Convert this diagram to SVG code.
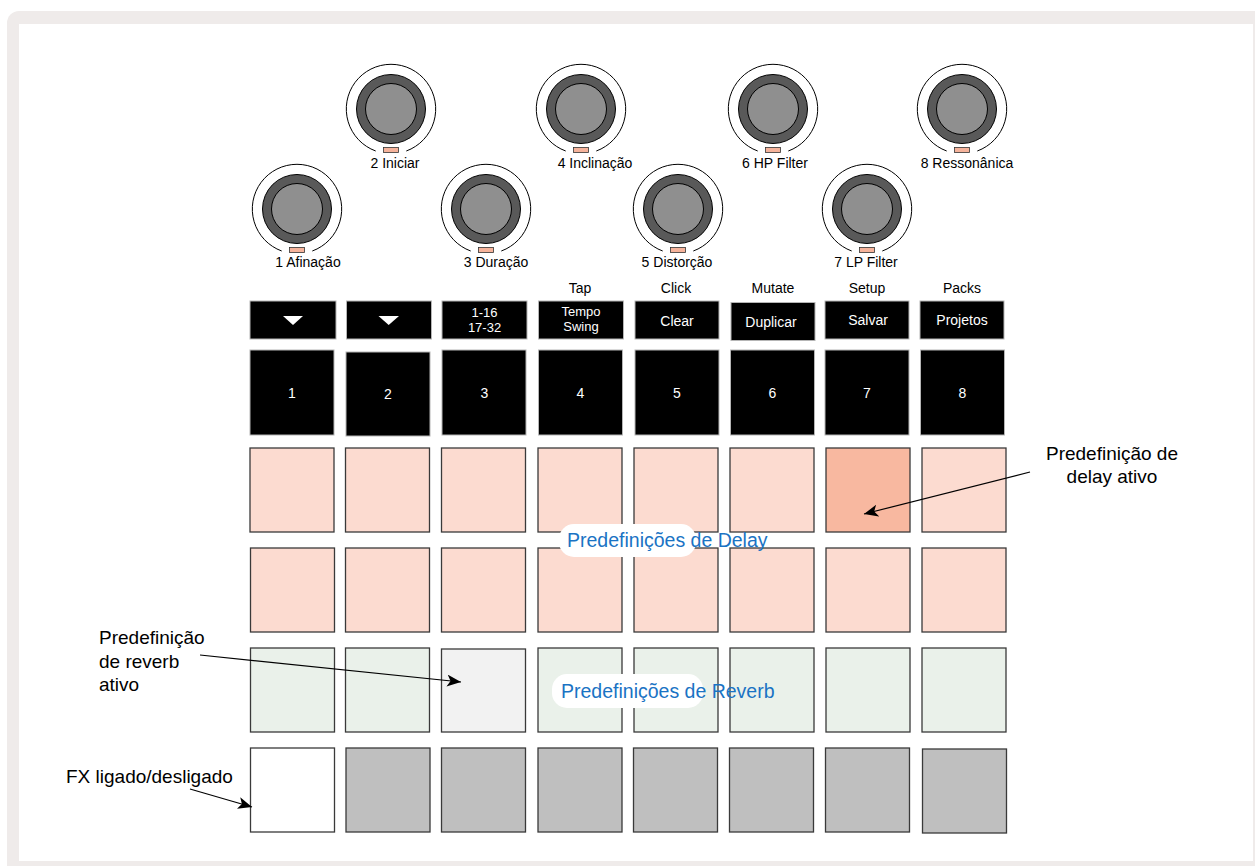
<svg xmlns="http://www.w3.org/2000/svg" width="1255" height="866" viewBox="0 0 1255 866">
<defs>
<style>
text{font-family:"Liberation Sans",Arial,sans-serif;fill:#000}
.kl{font-size:14px;text-anchor:middle}
.bt{font-size:14px;text-anchor:middle;fill:#fff}
.bt2{font-size:13px;text-anchor:middle;fill:#fff}
.big{font-size:19px}
.blue{font-size:19.5px;fill:#1a73c4}
.btn{fill:#000;stroke:#b5b5b5;stroke-width:1}
.pad{stroke:#3a3a3a;stroke-width:1.3}
.pk{fill:#fcdbd0}
.or{fill:#f8b8a0}
.gr{fill:#eaf1ea}
.ac{fill:#f2f2f2}
.gy{fill:#bfbfbf}
.wh{fill:#fff}
.ko{fill:none;stroke:#000;stroke-width:1}
.kr{fill:#595959;stroke:#000;stroke-width:1}
.ki{fill:#8f8f8f;stroke:#000;stroke-width:1}
.led{fill:#f5b39b;stroke:#333;stroke-width:0.8}
.arr{stroke:#000;stroke-width:1.2;fill:none;marker-end:url(#ah)}
</style>
<marker id="ah" markerUnits="userSpaceOnUse" markerWidth="15" markerHeight="13" refX="14" refY="6" orient="auto" viewBox="0 0 15 13">
<path d="M0,0 L14,6 L0,12 L3.5,6 z" fill="#000"/>
</marker>
<g id="knob">
<path class="ko" d="M-15.3,42 A44.7,44.7 0 1 1 15.3,42"/>
<circle class="kr" r="34.5"/>
<circle class="ki" r="25.5"/>
<rect class="led" x="-7.5" y="38.5" width="15" height="5"/>
</g>
</defs>

<rect x="7" y="11" width="1270" height="880" rx="12" fill="#efebea"/>
<rect x="19" y="24" width="1234" height="837" fill="#fff"/>

<g id="knobs">
<g id="knob1"><use href="#knob" x="297" y="209"/><text class="kl" x="308" y="267">1 Afinação</text></g>
<g id="knob2"><use href="#knob" x="391" y="109"/><text class="kl" x="395" y="168">2 Iniciar</text></g>
<g id="knob3"><use href="#knob" x="486" y="209"/><text class="kl" x="496" y="267">3 Duração</text></g>
<g id="knob4"><use href="#knob" x="581" y="109"/><text class="kl" x="595" y="168">4 Inclinação</text></g>
<g id="knob5"><use href="#knob" x="678" y="209"/><text class="kl" x="677" y="267">5 Distorção</text></g>
<g id="knob6"><use href="#knob" x="773" y="109"/><text class="kl" x="775" y="168">6 HP Filter</text></g>
<g id="knob7"><use href="#knob" x="867" y="209"/><text class="kl" x="866" y="267">7 LP Filter</text></g>
<g id="knob8"><use href="#knob" x="962" y="109"/><text class="kl" x="967" y="168">8 Ressonânica</text></g>
</g>

<g id="shift-labels">
<text class="kl" x="580" y="293">Tap</text>
<text class="kl" x="676" y="293">Click</text>
<text class="kl" x="773" y="293">Mutate</text>
<text class="kl" x="867" y="293">Setup</text>
<text class="kl" x="962" y="293">Packs</text>
</g>

<g id="buttons">
<g id="btn1"><rect class="btn" x="250" y="301" width="86" height="38"/><path d="M283,316 L303,316 L293,325 z" fill="#fff"/></g>
<g id="btn2"><rect class="btn" x="346.5" y="301" width="85" height="38"/><path d="M378.5,316 L399,316 L388.7,325 z" fill="#fff"/></g>
<g id="btn3"><rect class="btn" x="442" y="301" width="85" height="38"/><text class="bt2" x="484.5" y="316.5">1-16</text><text class="bt2" x="484.5" y="331.5">17-32</text></g>
<g id="btn4"><rect class="btn" x="538.5" y="301" width="85" height="38"/><text class="bt2" x="581" y="316">Tempo</text><text class="bt2" x="581" y="331">Swing</text></g>
<g id="btn5"><rect class="btn" x="635" y="301" width="84" height="38"/><text class="bt" x="677" y="325.5">Clear</text></g>
<g id="btn6"><rect class="btn" x="731" y="302.5" width="84" height="38"/><text class="bt" x="771" y="327">Duplicar</text></g>
<g id="btn7"><rect class="btn" x="825" y="301" width="84" height="38"/><text class="bt" x="868" y="325">Salvar</text></g>
<g id="btn8"><rect class="btn" x="920" y="301" width="84" height="38"/><text class="bt" x="962" y="325">Projetos</text></g>
</g>

<g id="tracks">
<g id="t1"><rect class="btn" x="250" y="350" width="84" height="85"/><text class="bt" x="292" y="398">1</text></g>
<g id="t2"><rect class="btn" x="346" y="352" width="84" height="84"/><text class="bt" x="388" y="399">2</text></g>
<g id="t3"><rect class="btn" x="442" y="350" width="84" height="85"/><text class="bt" x="484.5" y="398">3</text></g>
<g id="t4"><rect class="btn" x="538.5" y="350" width="84" height="85"/><text class="bt" x="580.5" y="398">4</text></g>
<g id="t5"><rect class="btn" x="635" y="350" width="84" height="85"/><text class="bt" x="677" y="398">5</text></g>
<g id="t6"><rect class="btn" x="730.5" y="350" width="84" height="85"/><text class="bt" x="772.5" y="398">6</text></g>
<g id="t7"><rect class="btn" x="825" y="350" width="84" height="85"/><text class="bt" x="867" y="398">7</text></g>
<g id="t8"><rect class="btn" x="920.5" y="350" width="84" height="85"/><text class="bt" x="962.5" y="398">8</text></g>
</g>

<g id="delay-row1">
<rect class="pad pk" x="250" y="448" width="84" height="84"/>
<rect class="pad pk" x="345.5" y="448" width="84" height="84"/>
<rect class="pad pk" x="441.5" y="448" width="84" height="84"/>
<rect class="pad pk" x="538" y="448" width="84" height="84"/>
<rect class="pad pk" x="634" y="448" width="84" height="84"/>
<rect class="pad pk" x="730" y="448" width="84" height="84"/>
<rect class="pad or" x="826" y="448" width="84" height="84"/>
<rect class="pad pk" x="922" y="448" width="84" height="84"/>
</g>
<g id="delay-row2">
<rect class="pad pk" x="250.5" y="548" width="84" height="84"/>
<rect class="pad pk" x="345.5" y="548" width="84" height="84"/>
<rect class="pad pk" x="441.5" y="548" width="84" height="84"/>
<rect class="pad pk" x="538" y="548" width="84" height="84"/>
<rect class="pad pk" x="634" y="548" width="84" height="84"/>
<rect class="pad pk" x="730" y="548" width="84" height="84"/>
<rect class="pad pk" x="826" y="548" width="84" height="84"/>
<rect class="pad pk" x="922" y="548" width="84" height="84"/>
</g>
<g id="reverb-row">
<rect class="pad gr" x="250.5" y="648" width="84" height="84"/>
<rect class="pad gr" x="345.5" y="648" width="84" height="84"/>
<rect class="pad ac" x="441.5" y="649" width="84" height="83"/>
<rect class="pad gr" x="538" y="648" width="84" height="84"/>
<rect class="pad gr" x="634" y="648" width="84" height="84"/>
<rect class="pad gr" x="730" y="648" width="84" height="84"/>
<rect class="pad gr" x="826" y="648" width="84" height="84"/>
<rect class="pad gr" x="922" y="648" width="84" height="84"/>
</g>
<g id="fx-row">
<rect class="pad wh" x="250.5" y="748" width="84" height="84"/>
<rect class="pad gy" x="346" y="748" width="84" height="84"/>
<rect class="pad gy" x="441.5" y="748" width="84" height="84"/>
<rect class="pad gy" x="538" y="748" width="84" height="84"/>
<rect class="pad gy" x="633.5" y="748" width="84" height="84"/>
<rect class="pad gy" x="729.5" y="748" width="84" height="84"/>
<rect class="pad gy" x="825.5" y="748" width="84" height="84"/>
<rect class="pad gy" x="922.5" y="749" width="84" height="84"/>
</g>

<g id="delay-label">
<rect x="559" y="524" width="137" height="33" rx="15" fill="#fff"/>
<text class="blue" x="567" y="547">Predefinições de Delay</text>
</g>
<g id="reverb-label">
<rect x="552" y="674" width="151" height="34" rx="15" fill="#fff"/>
<text class="blue" x="561" y="698">Predefinições de Reverb</text>
</g>

<g id="connectors">
<line class="arr" x1="1030" y1="472" x2="864" y2="514"/>
<line class="arr" x1="200" y1="655" x2="461" y2="682"/>
<line class="arr" x1="190" y1="789" x2="252" y2="807"/>
</g>

<g id="note-delay">
<text class="big" x="1112" y="460" text-anchor="middle">Predefinição de</text>
<text class="big" x="1112" y="483" text-anchor="middle">delay ativo</text>
</g>
<g id="note-reverb">
<text class="big" x="99" y="644">Predefinição</text>
<text class="big" x="99" y="667.5">de reverb</text>
<text class="big" x="99" y="691">ativo</text>
</g>
<g id="note-fx">
<text class="big" x="66" y="783">FX ligado/desligado</text>
</g>
</svg>
